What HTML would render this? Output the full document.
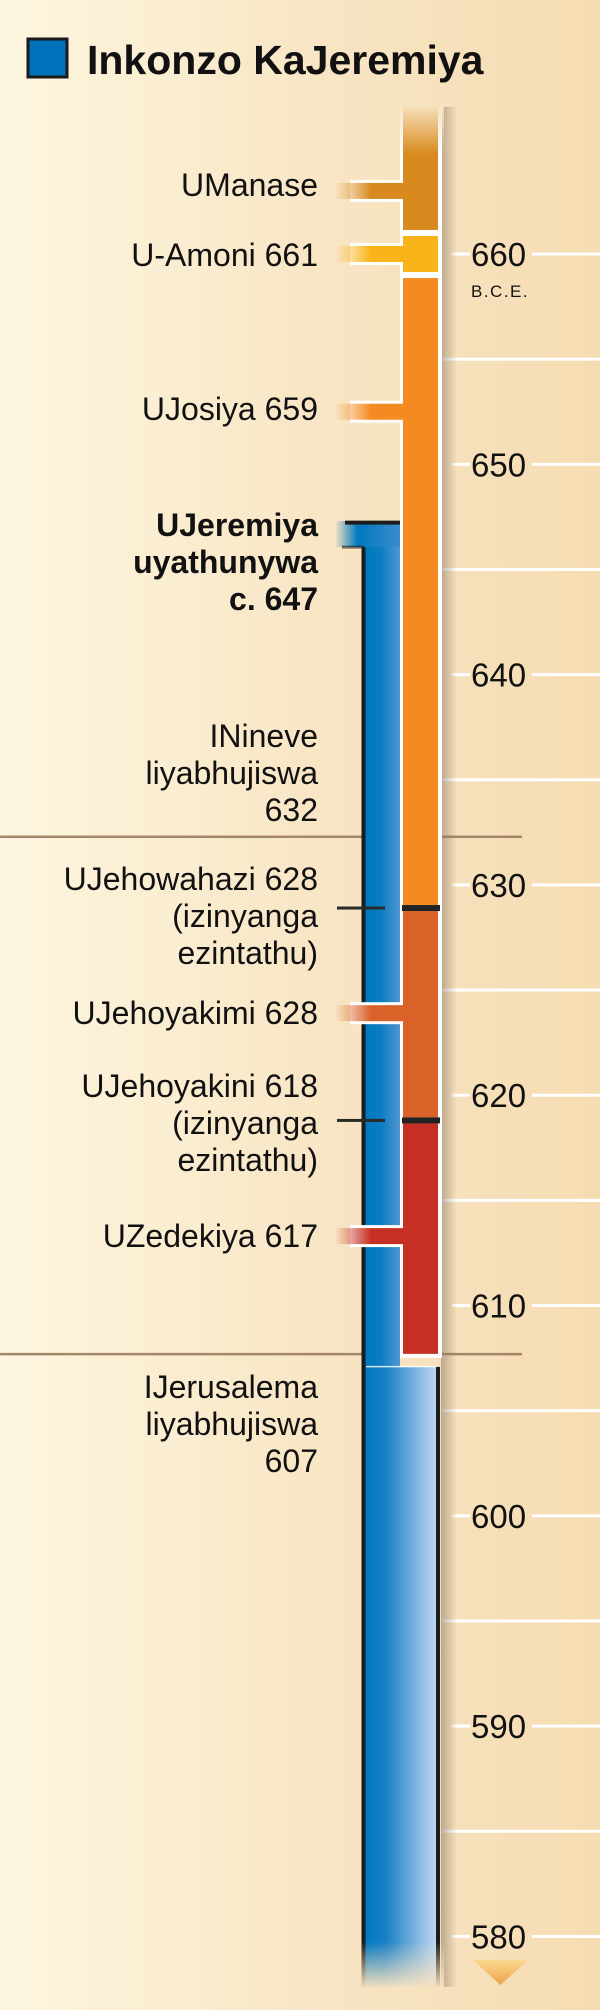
<!DOCTYPE html>
<html><head><meta charset="utf-8"><style>
html,body{margin:0;padding:0;width:600px;height:2010px;overflow:hidden}
svg{display:block}
text{font-family:"Liberation Sans",sans-serif;fill:#111}
</style></head><body>
<svg id="chart" width="600" height="2010" viewBox="0 0 600 2010" xmlns="http://www.w3.org/2000/svg">
<defs>
<linearGradient id="bg" x1="0" x2="1" y1="0" y2="0">
<stop offset="0" stop-color="#fdf6df"/><stop offset="0.55" stop-color="#f8e5c4"/><stop offset="1" stop-color="#f5dcb2"/></linearGradient>
<linearGradient id="blueG" x1="0" x2="1"><stop offset="0" stop-color="#0078c0"/><stop offset="0.45" stop-color="#0a7cc2"/><stop offset="1" stop-color="#5096d2"/></linearGradient>
<linearGradient id="blueG2" x1="0" x2="1"><stop offset="0" stop-color="#0078c0"/><stop offset="0.3" stop-color="#1a80c6"/><stop offset="1" stop-color="#c4daf2"/></linearGradient>
<linearGradient id="blueTab" x1="0" x2="1"><stop offset="0" stop-color="#0078c0" stop-opacity="0"/><stop offset="0.35" stop-color="#0078c0"/><stop offset="1" stop-color="#3a8ccc"/></linearGradient>
<linearGradient id="fadeTop" x1="0" x2="0" y1="0" y2="1"><stop offset="0" stop-color="#f7e2bf" stop-opacity="1"/><stop offset="1" stop-color="#f7e2bf" stop-opacity="0"/></linearGradient>
<linearGradient id="fadeBot" x1="0" x2="0" y1="0" y2="1"><stop offset="0" stop-color="#f7e2bf" stop-opacity="0"/><stop offset="1" stop-color="#f7e2bf" stop-opacity="1"/></linearGradient>
<linearGradient id="shadow" x1="0" x2="1"><stop offset="0" stop-color="#8a7a66" stop-opacity="0.55"/><stop offset="1" stop-color="#8a7a66" stop-opacity="0"/></linearGradient>
<linearGradient id="arrowG" x1="0" x2="0" y1="0" y2="1"><stop offset="0" stop-color="#fbd890"/><stop offset="1" stop-color="#eba348"/></linearGradient>
</defs>
<rect x="0" y="0" width="600" height="2010" fill="url(#bg)"/>
<rect x="28" y="39" width="39" height="38" fill="#0072bc" stroke="#1a1a1a" stroke-width="3"/>
<text x="87" y="74" font-size="41" font-weight="bold">Inkonzo KaJeremiya</text>
<g id="layer"></g>
</svg>
<script>
const tickYears = [660,650,640,630,620,610,600,590,580];
const gridYears = [660,655,650,645,640,635,630,625,620,615,610,605,600,595,590,585,580];
const reignNames = ["UManase","U-Amoni","UJosiya","UJehoyakimi","UZedekiya"];
const reignStart = [667,661,659,628.9,618.8];
const reignEnd = [661,659,628.9,618.8,607.7];
const reignColors = ["#d98a1e","#f8b418","#f48a22","#da6229","#c63024"];
const connectorYears = [663.0,660.0,652.5,623.9,613.3];
const markerYears = [628.9,618.8];
const jeremiahStart = 647.3;
const jeremiahEnd = 577.6;
const divideYears = [632.3,607.7];
const labelLines = [
 [["UManase"],196,false],
 [["U-Amoni 661"],266,false],
 [["UJosiya 659"],420,false],
 [["UJeremiya","uyathunywa","c. 647"],536,true],
 [["INineve","liyabhujiswa","632"],747,false],
 [["UJehowahazi 628","(izinyanga","ezintathu)"],890,false],
 [["UJehoyakimi 628"],1024,false],
 [["UJehoyakini 618","(izinyanga","ezintathu)"],1097,false],
 [["UZedekiya 617"],1247,false],
 [["IJerusalema","liyabhujiswa","607"],1398,false]
];
const y = yr => 254 + (660 - yr) * 21.03;
const NS = "http://www.w3.org/2000/svg";
const L = document.getElementById("layer");
function mk(tag, attrs){const e=document.createElementNS(NS,tag);for(const k in attrs)e.setAttribute(k,attrs[k]);L.appendChild(e);return e;}

divideYears.forEach(d=>{
 const e=mk("rect",{x:0,y:y(d)-1,width:522,height:2.5,fill:"#a4876a"});
 
 
});
gridYears.forEach(g=>{
 const hasLabel = tickYears.includes(g);
 if(hasLabel){
  const a=mk("rect",{x:452,y:y(g)-1.5,width:18,height:3,fill:"#fff"});
  
  
  const b=mk("rect",{x:532,y:y(g)-1.5,width:68,height:3,fill:"#fff"});
  
  
 } else {
  const a=mk("rect",{x:442,y:y(g)-1.5,width:158,height:3,fill:"#fff"});
  
  
 }
});
tickYears.forEach(t=>{
 const e=mk("text",{x:471,y:y(t)+12,"font-size":33});
 e.textContent=t;
 
 
});
const bce=mk("text",{x:471,y:297,"font-size":17,"letter-spacing":"1.5"});
bce.textContent="B.C.E.";



const sh=mk("rect",{x:441,y:y(667),width:16,height:y(jeremiahEnd)-y(667),fill:"url(#shadow)"});



const jTop=y(jeremiahStart), jMid=y(divideYears[1])+13, jBot=y(jeremiahEnd);
const jb1=mk("rect",{x:364,y:jTop,width:36,height:jMid-jTop,fill:"url(#blueG)"});


const jb2=mk("rect",{x:364,y:jMid,width:74,height:jBot-jMid,fill:"url(#blueG2)"});


const jsep=mk("rect",{x:366,y:jMid-1,width:72,height:1.5,fill:"#ffffff",opacity:"0.8"});


const jtab=mk("rect",{x:335,y:jTop,width:65,height:26,fill:"url(#blueTab)"});


const jl=mk("path",{d:`M400 ${jTop+1.5} H345 M363.5 ${jTop+26} V${jBot} M438 ${jMid} V${jBot}`,stroke:"#1c1c1c","stroke-width":4,fill:"none"});


const jl2=mk("path",{d:`M342 ${jTop+26} H364`,stroke:"#1c1c1c","stroke-width":3,fill:"none",opacity:"0.6"});


const jbf=mk("rect",{x:358,y:jBot-45,width:86,height:47,fill:"url(#fadeBot)"});



const wb=mk("rect",{x:400,y:y(667),width:42,height:y(reignEnd[4])-y(667)+4,fill:"#fff"});


connectorYears.forEach((c,i)=>{
 const cy=y(c);
 const w=mk("rect",{x:350,y:cy-11,width:57,height:22,fill:"#fff"});
 
 
});
connectorYears.forEach((c,i)=>{
 const gid="cg"+i;
 const lg=document.createElementNS(NS,"linearGradient");
 lg.setAttribute("id",gid);
 lg.innerHTML=`<stop offset="0" stop-color="${reignColors[i]}" stop-opacity="0"/><stop offset="0.5" stop-color="${reignColors[i]}" stop-opacity="1"/>`;
 document.querySelector("defs").appendChild(lg);
 const cy=y(c);
 const e=mk("rect",{x:335,y:cy-8,width:72,height:16,fill:`url(#${gid})`});
 
 
});
reignNames.forEach((n,i)=>{
 const t=y(reignStart[i])+(i?3:0), b=y(reignEnd[i])-(i<4?3:0);
 const e=mk("rect",{x:403,y:t,width:35,height:b-t,fill:reignColors[i]});
 
 
});
const tf=mk("rect",{x:398,y:y(667)-2,width:46,height:50,fill:"url(#fadeTop)"});


markerYears.forEach(m=>{
 const a=mk("rect",{x:337,y:y(m)-1.5,width:48,height:3,fill:"#2a2a2a"});
 
 
 const b=mk("rect",{x:402,y:y(m)-3,width:38,height:6,fill:"#222"});
 
 
});
labelLines.forEach(([lines,base,bold])=>{
 lines.forEach((ln,k)=>{
  const e=mk("text",{x:318,y:base+k*37,"font-size":32,"text-anchor":"end","font-weight":bold?"bold":"normal"});
  e.textContent=ln;
  
  
 });
});
const ar=mk("path",{d:"M473 1960 H528 L500.5 1985 Z",fill:"url(#arrowG)"});


</script>
</body></html>
